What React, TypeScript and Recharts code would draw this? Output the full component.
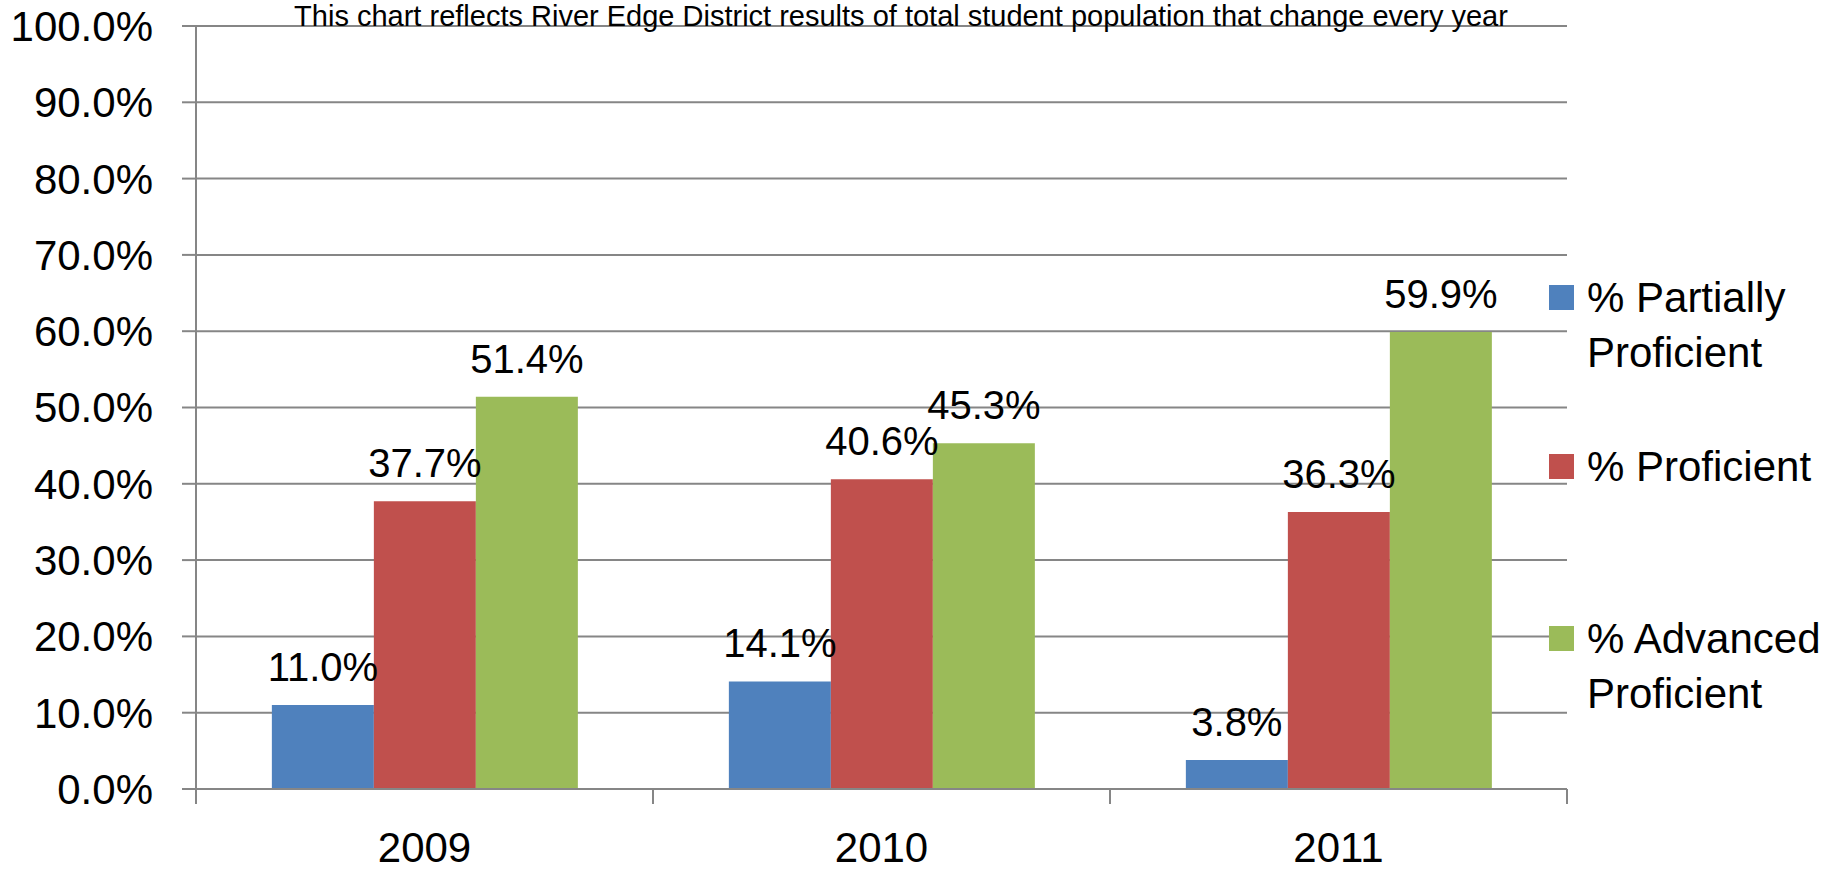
import React from 'react';
import { BarChart, Bar, XAxis, YAxis, CartesianGrid, LabelList } from 'recharts';

const years = ['2009', '2010', '2011'];
const partiallyProficient = [11.0, 14.1, 3.8];
const proficient = [37.7, 40.6, 36.3];
const advancedProficient = [51.4, 45.3, 59.9];
const yTicks = [0, 10, 20, 30, 40, 50, 60, 70, 80, 90, 100];
const seriesNames = ['% Partially Proficient', '% Proficient', '% Advanced Proficient'];
const seriesKeys = ['pp', 'p', 'ap'];
const seriesColors = ['#4F81BD', '#C0504D', '#9BBB59'];
const title = 'This chart reflects River Edge District results of total student population that change every year';

const data = years.map((y, i) => ({
  year: y,
  pp: partiallyProficient[i],
  p: proficient[i],
  ap: advancedProficient[i],
}));

const W = 1841;
const H = 872;
const M = { top: 26, right: 274, bottom: 0, left: 0 };
const Y_W = 196;
const X_H = 83;
const PLOT_W = W - M.left - M.right - Y_W;
const FONT = '"Liberation Sans", Arial, sans-serif';
const GRID = '#868686';
const legendTops = [270, 439, 611];

const fmt = (v: number) => `${v.toFixed(1)}%`;

const XTick = (props: any) => {
  const { x, y, payload, index, visibleTicksCount } = props;
  const half = typeof payload?.offset === 'number' && payload.offset > 0 ? payload.offset : PLOT_W / years.length / 2;
  const count = visibleTicksCount ?? years.length;
  return (
    <g>
      <line x1={x - half} x2={x - half} y1={y} y2={y + 15} stroke={GRID} strokeWidth={2} />
      {index === count - 1 && (
        <line x1={x + half} x2={x + half} y1={y} y2={y + 15} stroke={GRID} strokeWidth={2} />
      )}
      <text x={x} y={y + 73} textAnchor="middle" fontSize={42} fontFamily={FONT} fill="#000">
        {payload.value}
      </text>
    </g>
  );
};

const makeLabel = () => (props: any) => {
  const { x, y, width, value } = props;
  return (
    <text x={x + width / 2} y={y - 24} textAnchor="middle" fontSize={40} fontFamily={FONT} fill="#000">
      {fmt(Number(value))}
    </text>
  );
};

export default function App() {
  return (
    <div style={{ position: 'absolute', left: 0, top: 0, width: W, height: H, background: '#fff', fontFamily: FONT }}>
      <BarChart width={W} height={H} data={data} margin={M} barCategoryGap="16.6%" barGap={0}>
        <CartesianGrid vertical={false} stroke={GRID} strokeWidth={2} />
        <XAxis
          dataKey="year"
          height={X_H}
          axisLine={{ stroke: GRID, strokeWidth: 2 }}
          tickLine={false}
          tickSize={0}
          tickMargin={0}
          tick={<XTick />}
          interval={0}
        />
        <YAxis
          width={Y_W}
          domain={[0, 100]}
          ticks={yTicks}
          interval={0}
          tickFormatter={fmt}
          axisLine={{ stroke: GRID, strokeWidth: 2 }}
          tickLine={{ stroke: GRID, strokeWidth: 2 }}
          tickSize={14}
          tickMargin={29}
          tick={{ fontSize: 42, fontFamily: FONT, fill: '#000' }}
        />
        {seriesKeys.map((k, i) => (
          <Bar key={k} dataKey={k} name={seriesNames[i]} fill={seriesColors[i]} isAnimationActive={false}>
            <LabelList dataKey={k} content={makeLabel()} />
          </Bar>
        ))}
      </BarChart>
      <div
        style={{
          position: 'absolute',
          left: 901,
          top: 0,
          transform: 'translateX(-50%)',
          whiteSpace: 'nowrap',
          fontSize: 29,
          lineHeight: '32px',
          color: '#000',
        }}
      >
        {title}
      </div>
      {seriesNames.map((n, i) => (
        <div key={n} style={{ position: 'absolute', left: 1549, top: legendTops[i], width: 292 }}>
          <div style={{ position: 'absolute', left: 0, top: 15, width: 25, height: 25, background: seriesColors[i] }} />
          <div style={{ position: 'absolute', left: 38, top: 0, width: 250, fontSize: 42, lineHeight: '55px', color: '#000' }}>
            {n}
          </div>
        </div>
      ))}
    </div>
  );
}
